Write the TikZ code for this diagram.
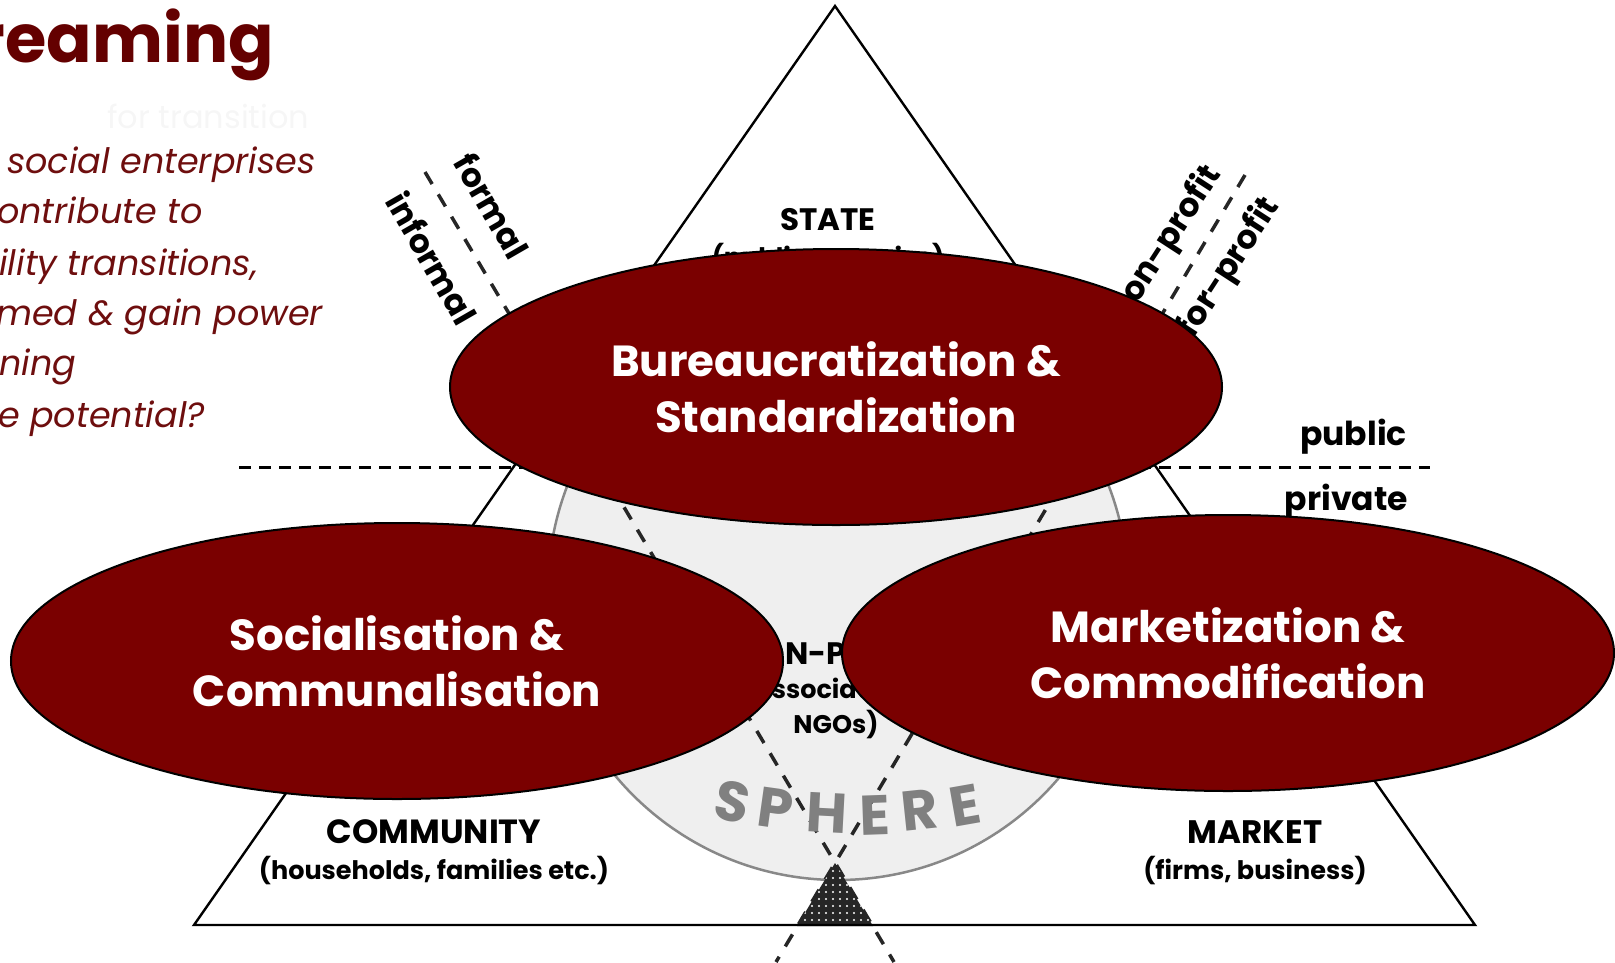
\documentclass[tikz,border=0pt]{standalone}
\usepackage{fontspec}
\setmainfont{Poppins}
\usetikzlibrary{shapes.geometric,patterns.meta}
\definecolor{wine}{RGB}{122,0,0}
\definecolor{titlered}{RGB}{100,0,0}
\definecolor{textred}{RGB}{110,14,14}
\definecolor{sphgray}{RGB}{128,128,128}
\definecolor{circfill}{RGB}{239,239,239}
\definecolor{circline}{RGB}{136,136,136}
\definecolor{ghost}{RGB}{246,246,246}
\newcommand\blobfont{\fontsize{43.5}{56}\selectfont\bfseries}
\newcommand\capfont{\fontsize{31}{34}\selectfont\bfseries}
\newcommand\subfont{\fontsize{25.5}{34}\selectfont\bfseries}
\newcommand\axfont{\fontsize{33}{36}\selectfont\bfseries}
\newcommand\sphfont{\fontsize{56}{56}\selectfont\bfseries}
\newcommand\itfont{\fontsize{35}{40}\selectfont\itshape}
\begin{document}
\begin{tikzpicture}[x=1pt,y=-1pt,
  blob/.style={ellipse, draw=black, line width=2pt, fill=wine, minimum width=772pt, minimum height=276pt, inner sep=0pt, text=white, font=\blobfont, align=center},
  caps/.style={font=\capfont, anchor=base, inner sep=0pt},
  sub/.style={font=\subfont, anchor=base, inner sep=0pt},
  axislabel/.style={font=\axfont, inner sep=0pt},
  splitline/.style={dash pattern=on 12pt off 8pt, line width=3pt, draw=black},
  crossline/.style={dash pattern=on 14pt off 12pt, line width=3.5pt, draw=black!85},
  sphletter/.style={font=\sphfont, text=sphgray, inner sep=0pt},
  question/.style={font=\itfont, text=textred, anchor=base west, inner sep=0pt},
]
\useasboundingbox (0,0) rectangle (1615,962);

% public / private split
\coordinate (pp1) at (239,467);
\coordinate (pp2) at (1430,467);
\draw[splitline] (pp1) -- (pp2);

% big triangle
\coordinate (tl) at (194,925);
\coordinate (tt) at (835,6);
\coordinate (tr) at (1475,925);

% third sector sphere
\node[circle, minimum size=580pt, inner sep=0pt, fill=circfill, draw=circline, line width=2.5pt] (sphere) at (838,590) {};

% formal/informal and profit/non-profit lines
\coordinate (fi1) at (425,172);
\coordinate (fi2) at (894,962);
\coordinate (np1) at (1245,175);
\coordinate (np2) at (776,962);
\draw[crossline] (fi1) -- (fi2);
\draw[crossline] (np1) -- (np2);

% SPHERE letters
\node[sphletter, rotate=-12] (s1) at (732,802) {S};
\node[sphletter, rotate=-8] (s2) at (776,808) {P};
\node[sphletter, rotate=-3] (s3) at (827,813) {H};
\node[sphletter, rotate=2] (s4) at (875,815) {E};
\node[sphletter, rotate=6] (s5) at (920,810) {R};
\node[sphletter, rotate=10] (s6) at (965,805) {E};

% dotted small triangle
\coordinate (d1) at (835,863);
\coordinate (d2) at (797,926);
\coordinate (d3) at (873,926);
\fill[black!85] (d1) -- (d2) -- (d3) -- cycle;
\fill[pattern={Dots[distance=7pt, radius=1.1pt]}, pattern color=white] (d1) -- (d2) -- (d3) -- cycle;

\draw[line width=2.4pt, line join=miter] (tl) -- (tt) -- (tr) -- cycle;

% sector labels
\node[caps] (state) at (828,230) {STATE};
\node[sub] (statesub) at (828,266) {(public agencies)};
\node[caps, font=\fontsize{33.5}{36}\selectfont\bfseries] (comm) at (434,843) {COMMUNITY};
\node[sub] (commsub) at (434,879) {(households, families etc.)};
\node[caps, font=\fontsize{32.5}{36}\selectfont\bfseries] (market) at (1255,843) {MARKET};
\node[sub] (marketsub) at (1255,879) {(firms, business)};
\node[caps] (np) at (836,664) {NON-PROFIT};
\node[sub] (npsub) at (836,698) {(associations,};
\node[sub] (npsub2) at (836,733) {NGOs)};

% axis labels
\node[axislabel, anchor=base east] (public) at (1407,445) {public};
\node[axislabel, anchor=base east] (private) at (1408,510) {private};
\node[axislabel, rotate=-60] (formal) at (492,206) {formal};
\node[axislabel, rotate=-60] (informal) at (432,258) {informal};
\node[axislabel, rotate=57] (nonprofit) at (1166,244) {non-profit};
\node[axislabel, rotate=57] (forprofit) at (1229,268) {for-profit};

% ellipses
\node[blob] (bur) at (836,387) {Bureaucratization \&\\Standardization};
\node[blob] (soc) at (397,661) {Socialisation \&\\Communalisation};
\node[blob] (mkt) at (1228,653) {Marketization \&\\Commodification};

% title and question text
\node[font=\fontsize{67}{70}\selectfont\bfseries, text=titlered, anchor=base east, inner sep=0pt] (title) at (274,62) {reaming};
\node[font=\fontsize{32}{34}\selectfont, text=ghost, anchor=base west, inner sep=0pt] (ghosttext) at (107,128) {for transition};
\node[question] (q1) at (7,173) {social enterprises};
\node[question] (q2) at (-3,223) {ontribute to};
\node[question] (q3) at (-1,275) {ility transitions,};
\node[question] (q4) at (-4,325) {med \& gain power};
\node[question] (q5) at (-1,375) {ning};
\node[question] (q6) at (-2,427) {e potential?};
\end{tikzpicture}
\end{document}
